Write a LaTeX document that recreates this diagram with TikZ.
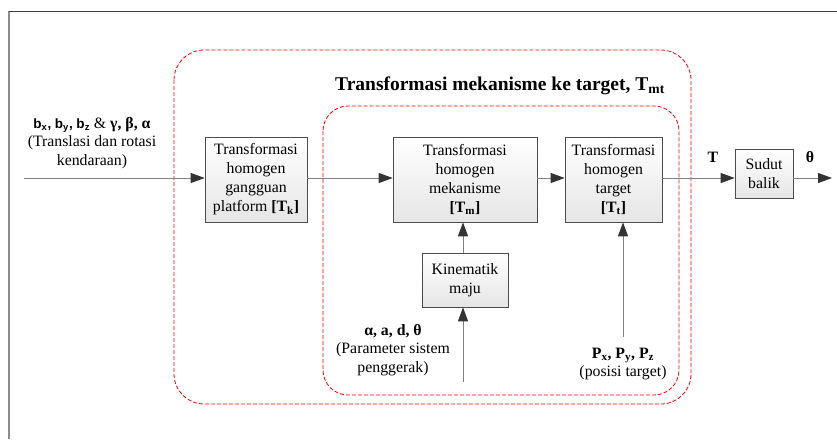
\documentclass[tikz,border=0pt]{standalone}
\usepackage{fontspec}
\setmainfont{Liberation Serif}
\newfontfamily\sansb{Liberation Sans}
\usetikzlibrary{arrows.meta}
\begin{document}
\begin{tikzpicture}[x=1pt,y=-1pt,
  blk/.style={draw=black!70, line width=0.7pt, top color=white, bottom color=black!10, align=center, inner sep=0pt, font=\fontsize{15.8}{19}\selectfont},
  lbl/.style={align=center, inner sep=0pt, font=\fontsize{15.8}{18.5}\selectfont},
  arr/.style={draw=black!50, line width=1pt, -{Triangle[length=14pt,width=10pt,color=black!80,fill=black!80]}},
  grp/.style={draw=red, line width=0.8pt, dash pattern=on 4pt off 2pt}]
\useasboundingbox (0,0) rectangle (837,439);
% frame
\draw[black!45, line width=1.2pt] (9,11) -- (9,439);
\draw[black!75, line width=1pt] (9,11) -- (837,11);
% groups
\draw[grp, rounded corners=30pt] (174,50) rectangle (691,404);
\draw[grp, rounded corners=25pt] (323,106) rectangle (679,395);
\node[inner sep=0pt, font=\fontsize{19.5}{22}\selectfont\bfseries] (title) at (500,86) {Transformasi mekanisme ke target, T\textsubscript{mt}};
% blocks
\node[blk, minimum width=102pt, minimum height=85pt] (tk) at (256,179.5) {Transformasi\\homogen\\gangguan\\platform \textbf{[T\textsubscript{k}]}};
\node[blk, minimum width=144pt, minimum height=85pt] (tm) at (465,179.5) {Transformasi\\homogen\\mekanisme\\\textbf{[T\textsubscript{m}]}};
\node[blk, minimum width=97pt, minimum height=85pt] (tt) at (613.5,179.5) {Transformasi\\homogen\\target\\\textbf{[T\textsubscript{t}]}};
\node[blk, minimum width=86pt, minimum height=54pt] (kin) at (465,280) {Kinematik\\maju};
\node[blk, minimum width=58pt, minimum height=49pt] (sb) at (764,173.5) {Sudut\\balik};
% labels
\node[lbl] (inlbl) at (92,143) {{\sansb\bfseries\fontsize{13.5}{15}\selectfont b\textsubscript{x}, b\textsubscript{y}, b\textsubscript{z}} \& \textbf{γ, β, α}\\(Translasi dan rotasi\\kendaraan)};
\node[lbl] (parlbl) at (393,350) {\textbf{α, a, d, θ}\\(Parameter sistem\\penggerak)};
\node[lbl] (poslbl) at (623,364) {\textbf{P\textsubscript{x}, P\textsubscript{y}, P\textsubscript{z}}\\(posisi target)};
\node[lbl, font=\fontsize{15.8}{18}\selectfont\bfseries] (tlbl) at (713,157) {T};
\node[lbl, font=\fontsize{15.8}{18}\selectfont\bfseries] (thlbl) at (810,157) {θ};
% connectors
\coordinate (in) at (24,178);
\coordinate (out) at (832,178);
\coordinate (pin) at (463,382);
\coordinate (ptin) at (623,337);
\draw[arr] (in) -- (in -| tk.west);
\draw[arr] (tk.east |- in) -- (tm.west |- in);
\draw[arr] (tm.east |- in) -- (tt.west |- in);
\draw[arr] (tt.east |- in) -- (sb.west |- in);
\draw[arr] (sb.east |- in) -- (out);
\draw[arr] (kin.north -| pin) -- (tm.south -| pin);
\draw[arr] (pin) -- (pin |- kin.south);
\draw[arr] (ptin) -- (ptin |- tt.south);
\end{tikzpicture}
\end{document}
